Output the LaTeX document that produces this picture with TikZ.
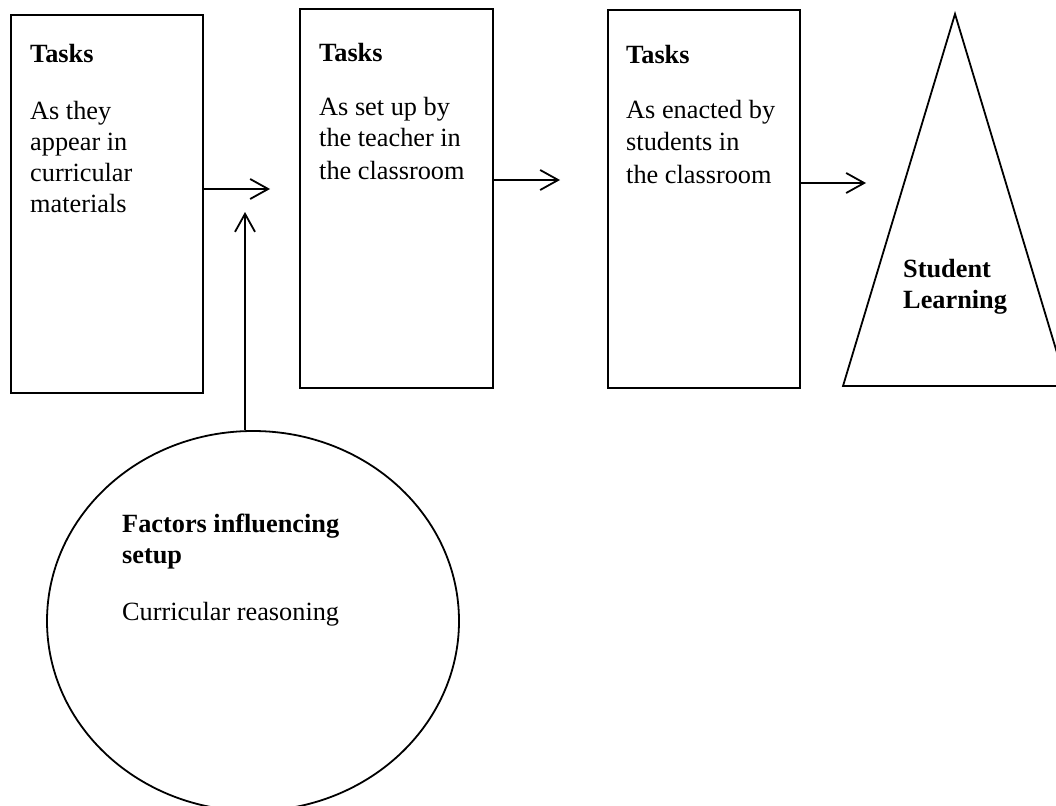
\documentclass[tikz,border=0pt]{standalone}
\usepackage{fontspec}
\setmainfont{Liberation Serif}
\usetikzlibrary{arrows.meta,shapes.geometric}
\tikzset{
  boxnode/.style={draw, line width=1.8pt, rectangle, inner sep=0pt, anchor=north west},
  txt/.style={anchor=base west, inner sep=0pt, font=\fontsize{26.3}{31}\selectfont},
  btxt/.style={txt, font=\fontsize{26.3}{31}\selectfont\bfseries},
  conn/.style={line width=1.8pt, -{Straight Barb[length=18pt,width=20pt,line width=1.8pt]}}
}
\begin{document}
\begin{tikzpicture}[x=1pt,y=-1pt]
\clip (0,0) rectangle (1056,805);
\fill[white] (0,0) rectangle (1056,805);
% boxes
\node[boxnode, minimum width=192pt, minimum height=378pt] (b1) at (10,14) {};
\node[boxnode, minimum width=193pt, minimum height=379pt] (b2) at (299,8) {};
\node[boxnode, minimum width=192pt, minimum height=378pt] (b3) at (607,9) {};
% triangle
\coordinate (tA) at (955,14);
\coordinate (tB) at (843,386);
\coordinate (tC) at (1067,386);
\draw[line width=1.8pt, line join=miter] (tA) -- (tB) -- (tC) -- cycle;
% ellipse
\node[draw, line width=1.8pt, ellipse, minimum width=412pt, minimum height=380pt, inner sep=0pt] (ell) at (253,621) {};
% texts box 1
\node[btxt] (t1a) at (30,63) {Tasks};
\node[txt] (t1b) at (30,120) {As they};
\node[txt] (t1c) at (30,151) {appear in};
\node[txt] (t1d) at (30,182) {curricular};
\node[txt] (t1e) at (30,212) {materials};
% texts box 2
\node[btxt] (t2a) at (319,62) {Tasks};
\node[txt] (t2b) at (319,116) {As set up by};
\node[txt] (t2c) at (319,147) {the teacher in};
\node[txt] (t2d) at (319,179) {the classroom};
% texts box 3
\node[btxt] (t3a) at (626,64) {Tasks};
\node[txt] (t3b) at (626,119) {As enacted by};
\node[txt] (t3c) at (626,151) {students in};
\node[txt] (t3d) at (626,183) {the classroom};
% triangle text
\node[btxt] (s1) at (903,277) {Student};
\node[btxt] (s2) at (903,308) {Learning};
% ellipse text
\node[btxt] (e1) at (122,532) {Factors influencing};
\node[btxt] (e2) at (122,563) {setup};
\node[txt] (e3) at (122,620) {Curricular reasoning};
% connectors
\coordinate (a1) at (270,189);
\coordinate (a2) at (560,180);
\coordinate (a3) at (866,183);
\coordinate (a4) at (245,212);
\draw[conn] (b1.east |- a1) -- (a1);
\draw[conn] (b2.east |- a2) -- (a2);
\draw[conn] (b3.east |- a3) -- (a3);
\draw[conn] ([xshift=-8pt]ell.north) -- (a4);
\end{tikzpicture}
\end{document}
